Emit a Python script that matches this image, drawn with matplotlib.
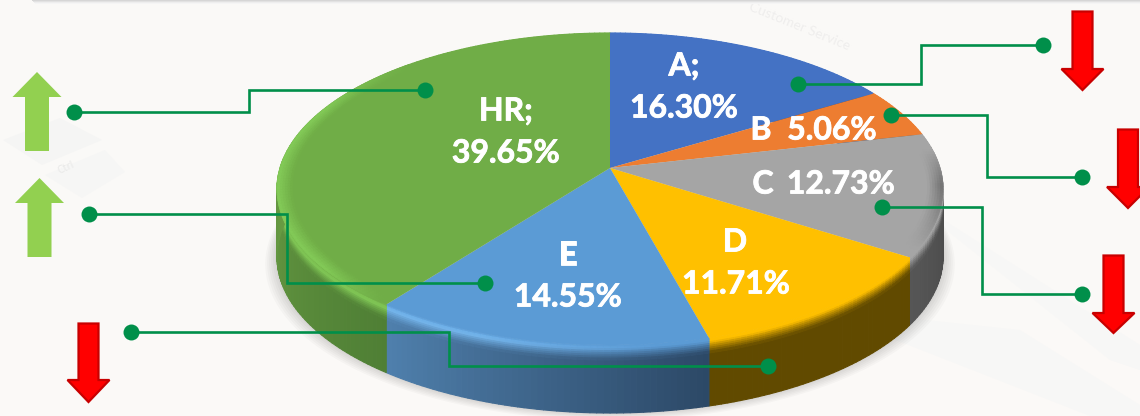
import numpy as np
import matplotlib
matplotlib.use("Agg")
import matplotlib.pyplot as plt
import matplotlib.patheffects as pe
from matplotlib.collections import PolyCollection
from matplotlib.colors import to_rgb
from matplotlib.transforms import Transform

# ---- data ----
categories = ["A;", "B", "C", "D", "E", "HR;"]
shares = [16.30, 5.06, 12.73, 11.71, 14.55, 39.65]
share_labels = ["16.30%", "5.06%", "12.73%", "11.71%", "14.55%", "39.65%"]

# ---- style ----
face_colors = ["#4472C4", "#ED7D31", "#A5A5A5", "#FFC000", "#5B9BD5", "#70AD47"]
wall_from = ["#2a4478", "#8a481c", "#434343", "#614a00", "#2c4866", "#4f7f35"]
wall_to = ["#2a4478", "#8a481c", "#565656", "#614a00", "#4f80ad", "#6a9e44"]
highlight = ["#4472C4", "#ED7D31", "#A5A5A5", "#FFC000", "#78baf2", "#84cc58"]
LEADER = "#008F4A"
UP = "#92D050"
DOWN = "#FF0000"
DOWN_EDGE = "#C80000"
BG = "#FAF9F7"
WALL = 68
BEVEL = 15
CX, CY, A, B, K = 610.0, 168.0, 330.0, 153.2, 0.1346


class Tilt(Transform):
    """Perspective view of the unit-circle pie onto the picture."""
    input_dims = output_dims = 2
    is_separable = False
    has_inverse = False

    def transform_non_affine(self, values):
        v = np.asarray(values, float)
        w = 1 + K * v[:, 1]
        return np.column_stack([CX + A * v[:, 0] / w, CY - B * v[:, 1] / w])


tilt = Tilt()


def rim(deg, radius=1.0):
    t = np.radians(deg)
    return tilt.transform_non_affine(np.column_stack([radius * np.sin(t), radius * np.cos(t)]))


def mix(a, b, t):
    return tuple(np.array(to_rgb(a)) * (1 - t) + np.array(to_rgb(b)) * t)


fig = plt.figure(figsize=(11.40, 4.16), dpi=100, facecolor=BG)
ax = fig.add_axes([0, 0, 1, 1])
ax.set_facecolor(BG)

# pie top face
wedges, _ = ax.pie(shares, colors=face_colors, startangle=90, counterclock=False,
                   radius=1, center=(0, 0), wedgeprops={"linewidth": 0})
for w in wedges:
    w.set_transform(tilt + ax.transData)
    w.set_zorder(5)
    w.set_antialiased(True)
    w.set_edgecolor("none")

ax.set_aspect("auto")
ax.set_xlim(0, 1140)
ax.set_ylim(416, 0)
ax.set_axis_off()

# faint backdrop
ax.add_patch(plt.Rectangle((0, 330), 1140, 86, fc="#FBF9F7", ec="none", zorder=0))
ax.fill([920, 1140, 1140, 1110, 940], [205, 345, 370, 360, 225], fc="#F7F7F6", ec="none", zorder=0.5)
ax.fill([870, 1090, 1140, 1140, 1020, 850], [330, 416, 416, 405, 330, 312], fc="#F7F7F6", ec="none", zorder=0.5)
ax.fill([3, 60, 102, 42], [140, 118, 140, 165], fc="#F5F5F4", ec="none", zorder=0.5)
ax.fill([45, 105, 125, 82], [175, 150, 172, 198], fc="#F6F6F5", ec="none", zorder=0.5)
ax.text(66, 168, "Ctrl", color="#E9E9E8", fontsize=7, rotation=25, ha="center", va="center", zorder=0.6)
ax.text(800, 26, "Customer Service", color="#EFEEED", fontsize=10, rotation=-22,
        ha="center", va="center", zorder=0.6, family="Lato")
for i, c in enumerate(["#D6D6D6", "#E2E2E2", "#EEEEEE", "#F5F5F5"]):
    ax.fill([32 + i, 1140, 1140, 32 + i], [0, 0, i + 1, i + 1], fc=c, ec="none", zorder=1 - i * 0.01)

# soft shadow under the pie
ring = rim(np.linspace(0, 360, 361))
for k in np.arange(2, 13, 2):
    ax.fill(CX + (ring[:, 0] - CX) * (1 + k / 340), ring[:, 1] + WALL + k * 0.6,
            fc="black", alpha=0.022, ec="none", zorder=1.5)

# pie walls with bevel
edges = np.cumsum([0] + shares) * 3.6
bevel_d = np.linspace(0, BEVEL, 9)
polys, cols = [], []
for i in range(len(shares)):
    a0, a1 = edges[i], edges[i + 1]
    grid = np.linspace(a0, a1, max(3, int(a1 - a0) + 1))
    for j in range(len(grid) - 1):
        mid = (grid[j] + grid[j + 1]) / 2
        t = (mid - a0) / (a1 - a0)
        if i == 5:
            t = min(1.0, t * 2.3)
        wall = mix(wall_from[i], wall_to[i], t)
        strength = 1.0
        if i == 4:
            strength = np.clip((mid - 172) / 28, 0, 1)
        if i == 5:
            strength = np.clip((292 - mid) / 18, 0, 1)
        top_hi = mix(face_colors[i], highlight[i], strength)
        p = rim(np.array([grid[j], grid[j + 1]]))
        x0, x1 = p[0, 0], p[1, 0]
        y0, y1 = p[0, 1], p[1, 1]
        polys.append([(x0, y0 + BEVEL), (x1, y1 + BEVEL), (x1, y1 + WALL), (x0, y0 + WALL)])
        cols.append(wall)
        for d0, d1 in zip(bevel_d[:-1], bevel_d[1:]):
            m = (d0 + d1) / 2
            if m < 4:
                c = mix(face_colors[i], top_hi, m / 4)
            else:
                c = mix(top_hi, wall, ((m - 4) / (BEVEL - 4)) ** 0.8)
            polys.append([(x0, y0 + d0), (x1, y1 + d0), (x1, y1 + d1), (x0, y0 + d1)])
            cols.append(c)
walls = PolyCollection(polys, facecolors=cols, edgecolors=cols, linewidths=0.8, zorder=3)
walls.set_snap(False)
ax.add_collection(walls)

# inner rim glow on the green slice and darkening on the grey one
radii = np.linspace(0.955, 1.0, 7)
band_polys, band_cols = [], []
for lo, hi, c_in, c_out in [
    (edges[5] + 1, 318.0, face_colors[5], highlight[5]),
    (edges[2] + 6, edges[3] - 3, face_colors[2], "#6a6a6a"),
]:
    grid = np.linspace(lo, hi, int(hi - lo) + 2)
    for g0, g1 in zip(grid[:-1], grid[1:]):
        mid = (g0 + g1) / 2
        fade = np.clip(min((mid - lo) / 15, (hi - mid) / 25), 0, 1)
        for r0, r1 in zip(radii[:-1], radii[1:]):
            f = ((r0 + r1) / 2 - radii[0]) / (radii[-1] - radii[0])
            col = mix(c_in, c_out, f * fade)
            q = np.vstack([rim(np.array([g0, g1]), r0), rim(np.array([g1, g0]), r1)])
            band_polys.append(q)
            band_cols.append(col)
band = PolyCollection(band_polys, facecolors=band_cols, edgecolors=band_cols, linewidths=0.6, zorder=5.5)
band.set_snap(False)
ax.add_collection(band)

# leaders
leaders = [
    ([74, 249, 249, 425], [112, 112, 90, 90]),
    ([89, 287, 287, 485], [214, 214, 283, 283]),
    ([131, 449, 449, 768], [332, 332, 366, 366]),
    ([798, 921, 921, 1043], [84, 84, 45, 45]),
    ([891, 987, 987, 1082], [115, 115, 177, 177]),
    ([882, 982, 982, 1082], [207, 207, 294, 294]),
]
for xs, ys in leaders:
    ax.plot(xs, ys, color=LEADER, lw=1.9, solid_joinstyle="miter", zorder=7)
    ax.plot([xs[0], xs[-1]], [ys[0], ys[-1]], "o", color=LEADER, ms=11.5, mew=0, zorder=8)


# arrows
def arrow(cx, top, neck, tip, shaft, head, fc, ec=None):
    xs = [cx - shaft, cx + shaft, cx + shaft, cx + head, cx, cx - head, cx - shaft]
    ys = [top, top, neck, neck, tip, neck, neck]
    ax.fill(xs, ys, fc=fc, ec=ec if ec else "none", lw=1.6 if ec else 0,
            joinstyle="miter", zorder=6, clip_on=True)


arrow(37, 151, 97, 72, 12, 24.5, UP)
arrow(39.5, 257, 203, 178, 12, 24.5, UP)
arrow(88.5, 323.5, 380, 402, 10, 21, DOWN, DOWN_EDGE)
arrow(1082.5, 11.5, 69, 90, 10, 21, DOWN, DOWN_EDGE)
arrow(1128, 129.5, 187, 208, 10, 21, DOWN, DOWN_EDGE)
arrow(1113.5, 255.5, 313, 333, 10, 21, DOWN, DOWN_EDGE)

# labels
font = dict(family="Lato", weight="bold", color="white", fontsize=23,
            ha="center", va="center", zorder=9,
            path_effects=[pe.withStroke(linewidth=0.6, foreground="white")])
ax.text(684, 66, categories[0], **font)
ax.text(684, 108, share_labels[0], **font)
ax.text(761, 130, categories[1], **font)
ax.text(832, 130, share_labels[1], **font)
ax.text(763, 184, categories[2], **font)
ax.text(841, 184, share_labels[2], **font)
ax.text(735, 242, categories[3], **font)
ax.text(736, 284, share_labels[3], **font)
ax.text(568, 255, categories[4], **font)
ax.text(568, 297, share_labels[4], **font)
ax.text(506, 111, categories[5], **font)
ax.text(506, 153, share_labels[5], **font)

fig.savefig("out.png", dpi=100, facecolor=BG)
